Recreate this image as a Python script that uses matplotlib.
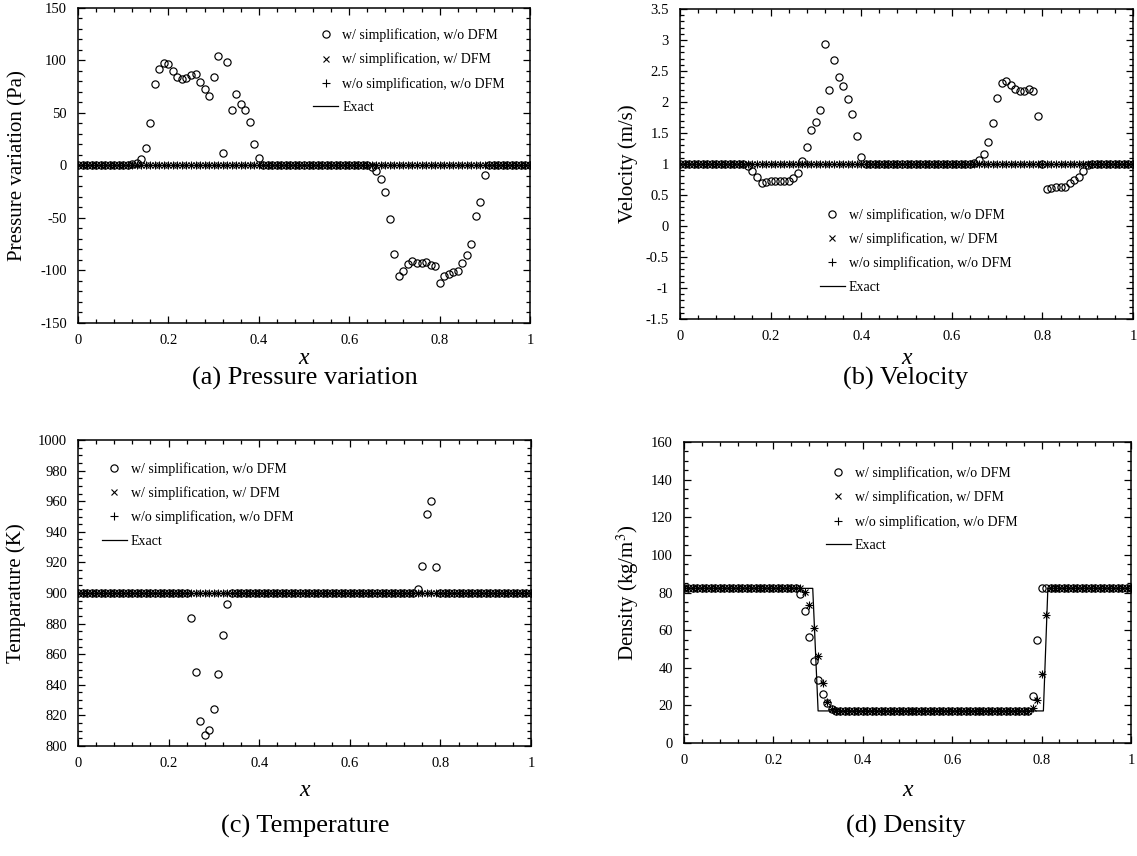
import numpy as np
import matplotlib
matplotlib.use('Agg')
import matplotlib.pyplot as plt
from matplotlib.ticker import MultipleLocator, FormatStrFormatter

plt.rcParams['font.family'] = ['Liberation Serif', 'DejaVu Serif']
plt.rcParams['axes.unicode_minus'] = False
plt.rcParams['mathtext.fontset'] = 'stix'

W, H = 1137, 856

# grid points (x = 0, 0.01, ..., 1)
x_grid = np.round(np.arange(101) * 0.01, 2)

# (a) pressure variation, w/ simplification, w/o DFM
p_circ = ([0.0] * 12 +
          [1.3, 2.2, 6, 17, 40.7, 77.6, 91.5, 97.2, 96.5, 89.9, 83.9, 82,
           83.6, 86.1, 87.1, 79.5, 72.9, 65.9, 84.2, 104.1, 12.3, 98.7, 52.4,
           67.8, 58.4, 52.7, 41.3, 20.5, 6.9] +
          [0.0] * 24 +
          [-1, -5.4, -12.6, -25.6, -50.5, -84.5, -105, -100.3, -93.4, -91.2,
           -93.1, -93.1, -91.5, -94.6, -95.6, -112.3, -105.4, -103.5, -101.9,
           -100.3, -93.1, -85.5, -75.1, -48.3, -34.7, -8.8] +
          [0.0] * 10)
p_dfm = [0.0] * 101
p_exact = [0.0, 0.0]

# (b) velocity
v_circ = ([1.0] * 15 +
          [0.963, 0.883, 0.787, 0.696, 0.712, 0.728, 0.728, 0.733, 0.733,
           0.733, 0.771, 0.856, 1.048, 1.277, 1.549, 1.683, 1.869, 2.936, 2.2,
           2.685, 2.403, 2.259, 2.051, 1.8, 1.459, 1.117] +
          [1.0] * 24 +
          [1.016, 1.069, 1.16, 1.347, 1.667, 2.072, 2.301, 2.333, 2.269,
           2.205, 2.173, 2.179, 2.211, 2.184, 1.773, 1.0, 0.595, 0.611, 0.621,
           0.627, 0.637, 0.691, 0.749, 0.787, 0.888, 0.984] +
          [1.0] * 10)
v_dfm = [1.0] * 101
v_exact = [1.0, 1.0]

# (c) temperature
t_circ = ([900.0] * 25 +
          [883.7, 848.6, 816.6, 807.4, 810.7, 824.2, 846.8, 872.3, 892.8] +
          [900.0] * 41 +
          [902.6, 917.6, 951.6, 960.1, 917.0] +
          [900.0] * 21)
t_dfm = [900.0] * 101
t_exact = [900.0, 900.0]

# (d) density
r_circ = ([82.2] * 26 +
          [79.2, 70, 56.1, 43.4, 33.5, 26.1, 21, 17.9] +
          [17.05] * 44 +
          [24.9, 54.5] +
          [82.2] * 21)
r_dfm = ([82.2] * 27 +
         [80.1, 73.5, 61.3, 46, 31.8, 21.7, 17.9] +
         [17.05] * 44 +
         [18.8, 23.1, 36.5, 67.9] +
         [82.2] * 19)
r_exact_x = [0.0, 0.288, 0.300, 0.804, 0.814, 1.0]
r_exact = [82.2, 82.2, 17.05, 17.05, 82.2, 82.2]

labels = ['w/ simplification, w/o DFM', 'w/ simplification, w/ DFM',
          'w/o simplification, w/o DFM', 'Exact']


def px_axes(fig, left, top, right, bottom):
    return fig.add_axes([left / W, 1 - bottom / H,
                         (right - left) / W, (bottom - top) / H])


def draw_panel(ax, circ, dfm, ex_x, ex_y, ylim, ymajor, yminor, fmt,
               leg_xy):
    ax.plot(ex_x, ex_y, '-', color='black', lw=0.9, zorder=1)
    h1, = ax.plot(x_grid, circ, 'o', ms=5.2, mfc='none', mec='black',
                  mew=0.85, zorder=3)
    h2, = ax.plot(x_grid, dfm, 'x', ms=4.8, color='black', mew=0.8,
                  zorder=4)
    h3, = ax.plot(x_grid, dfm, '+', ms=5.4, color='black', mew=0.8,
                  zorder=4)
    h4, = ax.plot([], [], '-', color='black', lw=0.9)
    ax.set_xlim(0, 1)
    ax.set_ylim(*ylim)
    ax.xaxis.set_major_locator(MultipleLocator(0.2))
    ax.xaxis.set_minor_locator(MultipleLocator(0.04))
    ax.xaxis.set_major_formatter(FormatStrFormatter('%g'))
    ax.yaxis.set_major_locator(MultipleLocator(ymajor))
    ax.yaxis.set_minor_locator(MultipleLocator(yminor))
    ax.yaxis.set_major_formatter(FormatStrFormatter(fmt))
    ax.tick_params(which='both', direction='in', top=True, right=True,
                   labelsize=10.5, width=0.9)
    ax.tick_params(which='major', length=5, pad=8)
    ax.tick_params(which='minor', length=3)
    for s in ax.spines.values():
        s.set_linewidth(1.1)
    ax.legend([h1, h2, h3, h4], labels, loc='upper left',
              bbox_to_anchor=leg_xy, frameon=False, fontsize=10,
              handlelength=1.8, handletextpad=0.3, labelspacing=0.75,
              borderpad=0, borderaxespad=0)


fig = plt.figure(figsize=(W / 100, H / 100), dpi=100)

ax_a = px_axes(fig, 78, 8, 530, 323)
draw_panel(ax_a, p_circ, p_dfm, [0, 1], p_exact, (-150, 150), 50, 10,
           '%g', (0.52, 0.935))
ax_b = px_axes(fig, 680, 9, 1133, 319)
draw_panel(ax_b, v_circ, v_dfm, [0, 1], v_exact, (-1.5, 3.5), 0.5, 0.1,
           '%g', (0.308, 0.358))
ax_c = px_axes(fig, 78, 440, 531, 746)
draw_panel(ax_c, t_circ, t_dfm, [0, 1], t_exact, (800, 1000), 20, 5,
           '%g', (0.052, 0.928))
ax_d = px_axes(fig, 684, 442, 1131, 743)
draw_panel(ax_d, r_circ, r_dfm, r_exact_x, r_exact, (0, 160), 20, 5,
           '%g', (0.317, 0.919))

ylabels = ['Pressure variation (Pa)', 'Velocity (m/s)', 'Temparature (K)',
           'Density (kg/m$^3$)']
ylab_x = [18, 628, 16, 628]
xlab_y = [358, 358, 790, 790]
captions = ['(a) Pressure variation', '(b) Velocity', '(c) Temperature',
            '(d) Density']
cap_pos = [(305, 378), (906, 378), (305, 826), (906, 826)]

for ax, yl, yx, xy, cap, cp in zip([ax_a, ax_b, ax_c, ax_d], ylabels,
                                   ylab_x, xlab_y, captions, cap_pos):
    bb = ax.get_position()
    cy = (bb.y0 + bb.y1) / 2
    cx = (bb.x0 + bb.x1) / 2
    fig.text(yx / W, cy, yl, rotation=90, ha='center', va='center',
             fontsize=15)
    fig.text(cx, 1 - xy / H, 'x', style='italic', ha='center',
             va='center', fontsize=17)
    fig.text(cp[0] / W, 1 - cp[1] / H, cap, ha='center', va='center',
             fontsize=19)

fig.savefig('out.png', dpi=100)
